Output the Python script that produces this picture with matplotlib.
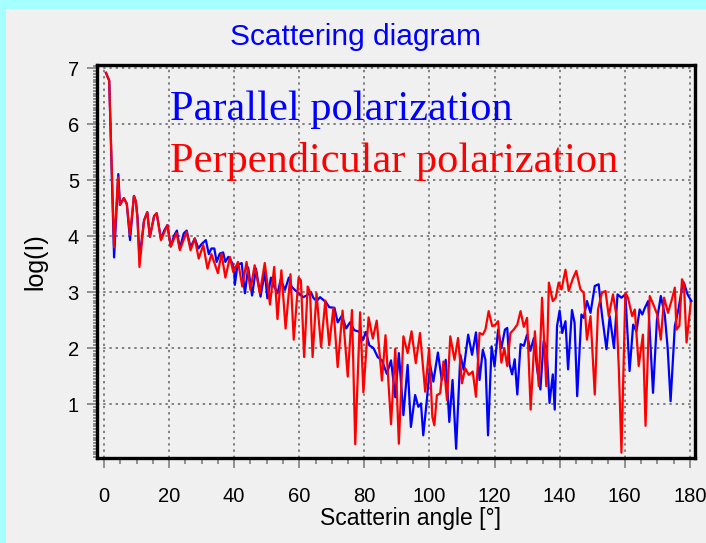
import matplotlib
matplotlib.use("Agg")
import matplotlib.pyplot as plt
from matplotlib.ticker import MultipleLocator
from matplotlib.patches import Rectangle

# ---------------- data ----------------
blue_deg = [0.6, 1.6, 3.1, 4.4, 4.9, 6.1, 7.0, 8.0, 9.2, 9.8, 10.3, 10.9, 12.3, 13.3, 14.1,
            15.4, 16.2, 17.5, 18.5, 19.5, 20.5, 21.6, 22.4, 23.3, 24.5, 25.4, 26.6, 27.9,
            29.0, 30.0, 31.3, 32.2, 33.0, 33.9, 34.6, 35.6, 36.6, 37.3, 38.2, 39.0, 40.0,
            40.2, 41.0, 42.3, 43.3, 44.3, 45.5, 46.7, 48.1, 49.4, 50.2, 51.3, 52.3, 53.3,
            54.3, 55.6, 56.8, 57.6, 58.6, 59.9, 61.2, 62.3, 63.6, 64.3, 65.3, 66.4, 68.2,
            69.2, 70.8, 71.8, 73.1, 74.4, 75.6, 76.9, 78.5, 79.5, 80.5, 81.5, 82.8, 84.1,
            85.4, 86.9, 88.2, 89.5, 90.6, 92.0, 93.3, 94.3, 95.6, 96.6, 97.4, 98.1, 99.2,
            100.2, 101.2, 102.6, 103.8, 105.0, 106.1, 107.1, 108.2, 109.5, 110.5, 111.9,
            113.1, 114.3, 115.4, 116.4, 117.2, 118.0, 119.1, 120.0, 121.1, 122.1, 123.2,
            123.9, 124.6, 125.4, 126.2, 127.0, 128.0, 129.0, 130.0, 131.0, 132.1, 133.1,
            134.1, 135.1, 136.0, 136.9, 137.9, 138.5, 139.2, 140.0, 140.8, 141.8, 142.6,
            143.8, 144.6, 145.4, 146.7, 147.4, 148.4, 149.5, 150.8, 152.0, 153.0, 154.4,
            155.4, 156.7, 157.8, 159.0, 160.2, 161.5, 162.6, 163.6, 164.6, 165.4, 166.2,
            167.2, 168.7, 169.9, 171.1, 172.3, 173.2, 174.1, 175.4, 176.6, 177.6, 178.2,
            179.3, 180.5]
blue_val = [6.92, 6.78, 3.62, 5.11, 4.56, 4.68, 4.58, 3.93, 4.72, 4.62, 4.34, 3.60, 4.28, 4.43, 3.99,
            4.36, 4.41, 3.95, 4.10, 4.20, 3.82, 4.02, 4.10, 3.78, 4.05, 4.10, 3.80, 3.96,
            3.78, 3.86, 3.93, 3.68, 3.78, 3.78, 3.54, 3.69, 3.71, 3.54, 3.63, 3.57, 3.42,
            3.13, 3.48, 3.52, 2.98, 3.44, 2.94, 3.42, 2.92, 3.36, 2.89, 3.26, 3.10, 2.98,
            3.22, 3.04, 3.26, 3.10, 3.04, 2.98, 2.91, 2.94, 3.00, 2.90, 2.84, 2.91, 2.82,
            2.73, 2.72, 2.46, 2.58, 2.35, 2.46, 2.32, 2.29, 2.14, 2.29, 2.05, 2.00, 1.84,
            1.78, 1.54, 1.78, 1.12, 1.91, 0.80, 1.70, 0.59, 1.16, 0.95, 1.01, 0.44, 1.07,
            1.70, 1.40, 1.92, 1.43, 1.79, 0.68, 1.43, 0.20, 1.88, 1.61, 2.24,
            1.88, 2.28, 1.43, 1.97, 1.79, 0.44, 2.03, 1.67, 2.33, 2.00, 2.33,
            2.36, 1.71, 1.53, 1.80, 1.17, 2.07, 2.04, 2.24, 1.95, 2.18, 1.62,
            1.26, 2.13, 2.00, 1.02, 1.53, 0.90, 2.39, 2.67, 2.27, 2.48, 1.62,
            2.68, 2.45, 1.14, 2.60, 2.54, 2.84, 2.63, 3.11, 3.14, 2.60, 1.98,
            2.57, 2.00, 2.96, 2.90, 2.96, 1.59, 2.42, 2.30, 2.69, 2.60, 2.72,
            2.84, 1.20, 2.50, 2.93, 2.60, 2.00, 1.05, 2.39, 2.72, 3.08, 3.17,
            2.96, 2.84]

red_deg = [0.6, 1.6, 3.1, 4.3, 4.9, 6.1, 7.0, 8.0, 9.2, 9.8, 10.3, 10.9, 12.3, 13.3, 14.1,
           15.4, 16.2, 17.5, 19.5, 20.5, 22.3, 23.3, 25.4, 26.6, 27.9, 29.1, 30.5, 31.8,
           33.0, 35.0, 36.1, 37.3, 38.7, 39.7, 41.2, 42.5, 43.8, 45.0, 46.3, 47.9, 49.4,
           51.0, 52.3, 53.3, 54.5, 55.8, 57.3, 58.3, 59.8, 60.5, 61.5, 62.6, 63.3, 64.1,
           65.3, 66.7, 68.0, 69.2, 70.5, 71.8, 73.3, 74.9, 76.2, 77.2, 78.7, 79.7, 81.3,
           82.6, 83.8, 85.4, 86.5, 88.2, 89.5, 90.6, 92.0, 93.3, 94.5, 95.8, 97.1, 98.7,
           99.9, 100.9, 101.5, 102.3, 103.3, 104.3, 105.4, 106.4, 107.7, 108.8, 110.0,
           111.0, 112.1, 113.3, 114.3, 115.4, 116.4, 117.2, 118.2, 119.3, 120.3, 121.1,
           122.1, 123.0, 123.9, 124.9, 125.9, 127.0, 128.0, 129.0, 130.0, 131.1, 132.4,
           133.6, 134.6, 135.9, 136.7, 137.9, 138.8, 139.7, 140.6, 141.8, 142.8, 144.0,
           145.1, 146.4, 147.4, 148.4, 149.5, 150.8, 151.8, 153.0, 154.1, 155.1, 156.4,
           157.5, 158.2, 159.0, 160.2, 161.0, 162.3, 163.1, 164.3, 165.6, 166.4, 167.7,
           169.0, 170.0, 171.1, 172.1, 173.3, 174.5, 175.4, 175.9, 176.8, 177.6, 178.2,
           179.0, 180.3]
red_val = [6.92, 6.78, 3.80, 5.05, 4.56, 4.68, 4.58, 4.02, 4.72, 4.62, 4.30, 3.45, 4.28, 4.43, 3.99,
           4.36, 4.41, 3.93, 4.20, 3.81, 4.06, 3.75, 4.08, 3.75, 3.96, 3.60, 3.84, 3.42,
           3.68, 3.34, 3.69, 3.26, 3.63, 3.36, 3.54, 3.10, 3.54, 3.04, 3.48, 2.98, 3.52,
           2.78, 3.45, 2.52, 3.39, 2.35, 3.32, 2.15, 3.26, 3.21, 1.84, 3.10, 3.00, 1.84,
           2.98, 2.02, 2.85, 2.05, 2.72, 1.66, 2.67, 1.49, 2.68, 0.28, 2.64, 1.21, 2.55,
           2.17, 2.49, 1.42, 2.23, 0.64, 1.99, 0.29, 2.21, 1.91, 2.30, 1.73, 2.27, 1.22,
           2.00, 0.77, 0.62, 1.16, 1.19, 1.76, 1.07, 2.21, 1.79, 2.18, 1.37,
           1.64, 1.52, 1.58, 1.13, 2.27, 2.24, 2.33, 2.66, 2.39, 2.42, 2.48,
           1.74, 2.00, 1.68, 2.27, 2.33, 2.42, 2.66, 2.38, 2.54, 0.90, 2.30,
           1.32, 2.90, 1.32, 3.17, 2.84, 2.90, 3.17, 3.05, 3.40, 3.02, 3.23,
           3.38, 3.05, 2.99, 2.15, 2.57, 1.17, 2.69, 2.99, 3.02, 2.57, 2.96,
           2.57, 1.62, 0.13, 2.99, 2.90, 2.57, 2.69, 1.68, 2.24, 0.61, 2.93,
           2.75, 2.60, 2.15, 2.90, 2.63, 2.87, 3.08, 2.33, 2.40, 3.23, 3.15,
           2.10, 2.81]

x_ticks = [0, 20, 40, 60, 80, 100, 120, 140, 160, 180]
y_ticks = [1, 2, 3, 4, 5, 6, 7]
title = "Scattering diagram"
x_label = "Scatterin angle [°]"
y_label = "log(I)"
legend_labels = ["Parallel polarization", "Perpendicular polarization"]

# ---------------- figure ----------------
W, H = 706, 543
fig = plt.figure(figsize=(W / 100, H / 100), dpi=100)
fig.patch.set_facecolor("#A6FFFF")
# inner light-grey panel
fig.patches.append(Rectangle((6 / W, 0), 1 - 6 / W, 1 - 9 / H, transform=fig.transFigure,
                             facecolor="#F0F0F0", edgecolor="none", zorder=-10))

ax_l, ax_r, ax_t, ax_b = 97, 695, 65, 458
ax = fig.add_axes([ax_l / W, 1 - ax_b / H, (ax_r - ax_l) / W, (ax_b - ax_t) / H])
ax.set_zorder(1)
ax.set_facecolor("#F0F0F0")

ax.plot(blue_deg, blue_val, color="#0000FF", lw=1.6, zorder=3)
ax.plot(red_deg, red_val, color="#FF0000", lw=1.6, zorder=4)

ax.set_xlim(-2.15, 181.6)
ax.set_ylim(0.035, 7.06)
ax.set_xticks(x_ticks)
ax.set_yticks(y_ticks)
ax.xaxis.set_minor_locator(MultipleLocator(5))
ax.yaxis.set_minor_locator(MultipleLocator(0.05))

tick_font = dict(family="Liberation Sans", size=14.5)
ax.set_xticklabels([str(t) for t in x_ticks], **tick_font)
ax.set_yticklabels([str(t) for t in y_ticks], **tick_font)
ax.tick_params(axis="both", which="major", direction="out", color="#808080",
               width=1.2, length=7, pad=6)
ax.tick_params(axis="x", which="major", pad=14)
ax.tick_params(axis="x", which="minor", direction="out", color="#808080",
               width=1.2, length=4)
ax.tick_params(axis="y", which="minor", direction="out", color="#808080",
               width=1.2, length=3)

ax.grid(True, which="major", color="#808080", linestyle=(0, (1.2, 2.0)), linewidth=1.4)
ax.set_axisbelow(True)
for s in ax.spines.values():
    s.set_color("black")
    s.set_linewidth(2.4)

fig.text(355 / W, 1 - 37 / H, title, color="#0000FF", ha="center", va="center",
         family="Liberation Sans", fontsize=21.5)
fig.text(410 / W, 1 - 518 / H, x_label, color="black", ha="center", va="center",
         family="Liberation Sans", fontsize=16.5)
fig.text(35 / W, 1 - 262 / H, y_label, color="black", ha="center", va="center",
         rotation=90, family="Liberation Sans", fontsize=18)

fig.text(170 / W, 1 - 120 / H, legend_labels[0], color="#0000FF", ha="left",
         va="baseline", family="Liberation Serif", fontsize=30.5, zorder=5)
fig.text(170 / W, 1 - 172 / H, legend_labels[1], color="#FF0000", ha="left",
         va="baseline", family="Liberation Serif", fontsize=30.5, zorder=5)

fig.savefig("out.png", dpi=100, facecolor=fig.get_facecolor())
